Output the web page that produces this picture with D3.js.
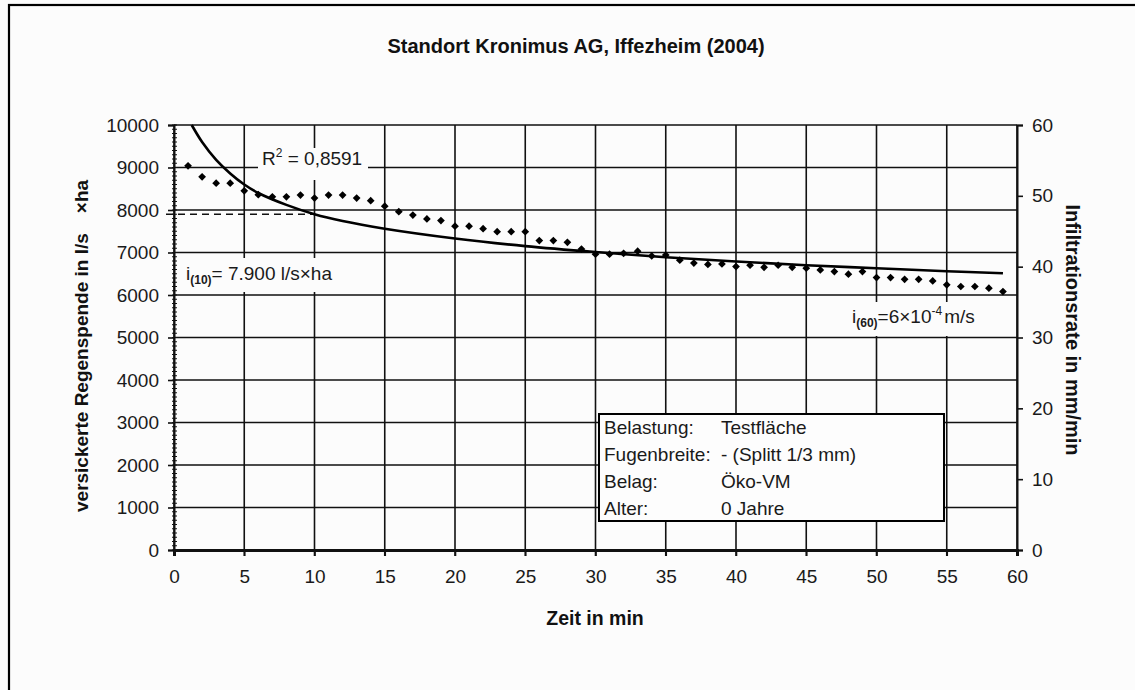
<!DOCTYPE html>
<html>
<head>
<meta charset="utf-8">
<script src="https://cdn.jsdelivr.net/npm/d3@7"></script>
<style>
  html, body { margin: 0; padding: 0; background: #fcfcfc; }
  svg { display: block; font-family: "Liberation Sans", Arial, sans-serif; }
</style>
</head>
<body>
<svg id="chart" width="1135" height="690"></svg>
<script>
// ---------- data ----------
const title = "Standort Kronimus AG, Iffezheim (2004)";
const minutes = [1,2,3,4,5,6,7,8,9,10,11,12,13,14,15,16,17,18,19,20,21,22,23,24,25,26,27,28,29,30,
                 31,32,33,34,35,36,37,38,39,40,41,42,43,44,45,46,47,48,49,50,51,52,53,54,55,56,57,58,59];
const rainValues = [9040,8780,8630,8630,8450,8360,8310,8310,8350,8280,8350,8350,8280,8220,8090,7960,7880,7790,7750,7620,
                    7620,7560,7490,7490,7490,7280,7280,7240,7080,6960,6960,6980,7030,6920,6940,6820,6750,6720,6730,6670,
                    6700,6650,6700,6650,6630,6590,6550,6490,6550,6410,6410,6370,6370,6330,6240,6200,6200,6160,6080];
const trendTimes  = [1.26, 2, 3, 4, 5, 6, 8, 10, 12, 15, 20, 25, 30, 35, 40, 45, 50, 55, 59];
const trendValues = [10000, 9600, 9180, 8860, 8600, 8400, 8120, 7900, 7740, 7560, 7330, 7150, 7010, 6890, 6790, 6700, 6630, 6560, 6510];
const xTicks = [0,5,10,15,20,25,30,35,40,45,50,55,60];
const yLeftTicks = [0,1000,2000,3000,4000,5000,6000,7000,8000,9000,10000];
const yRightTicks = [0,10,20,30,40,50,60];
const refValue10 = 7900;
const refTime10 = 10;
const legendLabels = ["Belastung:", "Fugenbreite:", "Belag:", "Alter:"];
const legendValues = ["Testfläche", "- (Splitt 1/3 mm)", "Öko-VM", "0 Jahre"];

// ---------- layout ----------
const svg = d3.select("#chart");
const L = 174, R = 1017, T = 125, B = 550;
const x = d3.scaleLinear().domain([0, 60]).range([L, R]);
const yL = d3.scaleLinear().domain([0, 10000]).range([B, T]);
const yR = d3.scaleLinear().domain([0, 60]).range([B, T]);
const ink = "#111";

svg.append("rect").attr("width", 1135).attr("height", 690).attr("fill", "#fcfcfc");
// outer frame (only top/left visible)
svg.append("rect").attr("x", 9).attr("y", 5).attr("width", 1200).attr("height", 800)
  .attr("fill", "none").attr("stroke", "#000").attr("stroke-width", 2.2);

// title
svg.append("text").attr("x", 576).attr("y", 53).attr("text-anchor", "middle")
  .attr("font-size", 20).attr("font-weight", "bold").attr("fill", "#111").text(title);

// plot background
svg.append("rect").attr("x", L).attr("y", T).attr("width", R - L).attr("height", B - T).attr("fill", "#fcfcfc");

// gridlines
const g = svg.append("g");
g.selectAll("line.h").data(yLeftTicks).join("line")
  .attr("x1", L).attr("x2", R).attr("y1", d => yL(d)).attr("y2", d => yL(d))
  .attr("stroke", ink).attr("stroke-width", 1.6);
g.selectAll("line.v").data(xTicks).join("line")
  .attr("x1", d => x(d)).attr("x2", d => x(d)).attr("y1", T).attr("y2", B + 6)
  .attr("stroke", ink).attr("stroke-width", 1.6);

// left axis
const leftAxis = d3.axisLeft(yL).tickValues(yLeftTicks).tickSize(6).tickPadding(9).tickFormat(d3.format("d"));
const la = svg.append("g").attr("transform", `translate(${L},0)`).call(leftAxis);
la.select(".domain").attr("stroke", ink).attr("stroke-width", 2);
la.selectAll(".tick line").attr("stroke", ink).attr("stroke-width", 1.6);
la.selectAll("text").attr("font-size", 19).attr("fill", "#1a1a1a").attr("font-family", "Liberation Sans, Arial, sans-serif");
// minor ticks
const minor = d3.scaleLinear().domain([0, 10000]).ticks(100);
svg.append("g").selectAll("line").data(minor).join("line")
  .attr("x1", L - 2).attr("x2", L + 3).attr("y1", d => yL(d)).attr("y2", d => yL(d))
  .attr("stroke", ink).attr("stroke-width", 1);

// right axis
const rightAxis = d3.axisRight(yR).tickValues(yRightTicks).tickSize(6).tickPadding(9);
const ra = svg.append("g").attr("transform", `translate(${R},0)`).call(rightAxis);
ra.select(".domain").attr("stroke", ink).attr("stroke-width", 2);
ra.selectAll(".tick line").attr("stroke", ink).attr("stroke-width", 1.6);
ra.selectAll("text").attr("font-size", 19).attr("fill", "#1a1a1a").attr("font-family", "Liberation Sans, Arial, sans-serif");

// bottom axis
const bottomAxis = d3.axisBottom(x).tickValues(xTicks).tickSize(6).tickPadding(14);
const ba = svg.append("g").attr("transform", `translate(0,${B})`).call(bottomAxis);
ba.select(".domain").attr("stroke", ink).attr("stroke-width", 3);
ba.selectAll(".tick line").attr("stroke", ink).attr("stroke-width", 1.6);
ba.selectAll("text").attr("font-size", 19).attr("fill", "#1a1a1a").attr("font-family", "Liberation Sans, Arial, sans-serif");

// axis titles
svg.append("text").attr("x", 595).attr("y", 625).attr("text-anchor", "middle")
  .attr("font-size", 19.5).attr("font-weight", "bold").attr("fill", "#111").text("Zeit in min");
const lt = svg.append("text").attr("transform", "translate(88,512) rotate(-90)")
  .attr("font-size", 19).attr("font-weight", "bold").attr("fill", "#111");
lt.append("tspan").text("versickerte Regenspende in l/s");
lt.append("tspan").attr("dx", 20).text("×ha");
svg.append("text").attr("transform", "translate(1066,330) rotate(90)").attr("text-anchor", "middle")
  .attr("font-size", 20).attr("font-weight", "bold").attr("fill", "#111").text("Infiltrationsrate in mm/min");

// dashed reference line
svg.append("line").attr("x1", L - 8).attr("x2", x(refTime10)).attr("y1", yL(refValue10)).attr("y2", yL(refValue10))
  .attr("stroke", ink).attr("stroke-width", 1.6).attr("stroke-dasharray", "7,5");

// trend line
const line = d3.line().x(d => x(d[0])).y(d => yL(d[1])).curve(d3.curveCatmullRom.alpha(0.5));
svg.append("path").datum(trendTimes.map((t, i) => [t, trendValues[i]]))
  .attr("d", line).attr("fill", "none").attr("stroke", "#000").attr("stroke-width", 2.6);

// data points (diamonds)
const diamond = d3.symbol().type(d3.symbolSquare).size(30);
svg.append("g").selectAll("path").data(minutes.map((m, i) => [m, rainValues[i]])).join("path")
  .attr("d", diamond)
  .attr("transform", d => `translate(${x(d[0])},${yL(d[1])}) rotate(45)`)
  .attr("fill", "#000");

// annotations
// R²
svg.append("rect").attr("x", 258).attr("y", 148).attr("width", 110).attr("height", 32).attr("fill", "#fcfcfc");
const r2 = svg.append("text").attr("x", 262).attr("y", 165).attr("font-size", 19).attr("fill", "#1a1a1a");
r2.append("tspan").text("R");
r2.append("tspan").attr("font-size", 12).attr("dy", -8).text("2");
r2.append("tspan").attr("dy", 8).text(" = 0,8591");

// i(10)
svg.append("rect").attr("x", 182).attr("y", 258).attr("width", 160).attr("height", 34).attr("fill", "#fcfcfc");
const i10 = svg.append("text").attr("x", 186).attr("y", 280).attr("font-size", 19).attr("fill", "#1a1a1a");
i10.append("tspan").text("i");
i10.append("tspan").attr("font-size", 12).attr("font-weight", "bold").attr("dy", 4).text("(10)");
i10.append("tspan").attr("dy", -4).text("= 7.900 l/s×ha");

// i(60)
svg.append("rect").attr("x", 848).attr("y", 302).attr("width", 136).attr("height", 34).attr("fill", "#fcfcfc");
const i60 = svg.append("text").attr("x", 852).attr("y", 323).attr("font-size", 19).attr("fill", "#1a1a1a");
i60.append("tspan").text("i");
i60.append("tspan").attr("font-size", 12).attr("font-weight", "bold").attr("dy", 4).text("(60)");
i60.append("tspan").attr("dy", -4).text("=6×10");
i60.append("tspan").attr("font-size", 12).attr("dy", -8).text("-4");
i60.append("tspan").attr("dy", 8).attr("dx", 2).text("m/s");

// legend box
svg.append("rect").attr("x", 599).attr("y", 414).attr("width", 345).attr("height", 107)
  .attr("fill", "#fdfdfd").attr("stroke", "#000").attr("stroke-width", 2);
const lg = svg.append("g");
lg.selectAll("text.l").data(legendLabels).join("text")
  .attr("x", 604).attr("y", (d, i) => 434 + i * 27).attr("font-size", 19).attr("fill", "#1a1a1a").text(d => d);
lg.selectAll("text.v").data(legendValues).join("text")
  .attr("x", 721).attr("y", (d, i) => 434 + i * 27).attr("font-size", 19).attr("fill", "#1a1a1a").text(d => d);
</script>
</body>
</html>
